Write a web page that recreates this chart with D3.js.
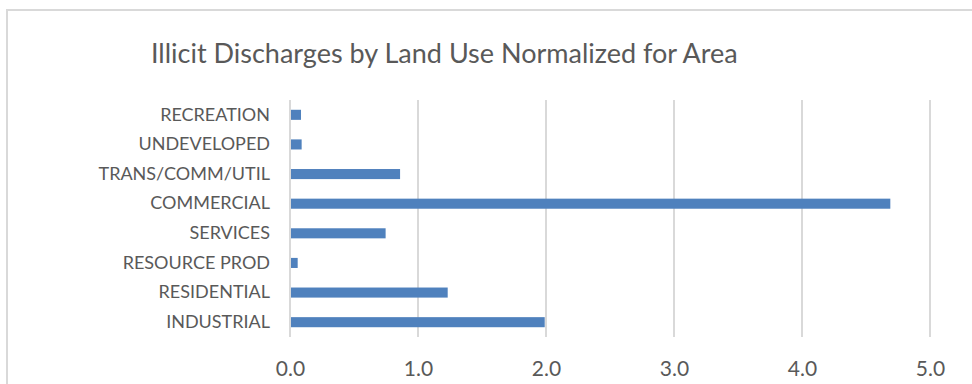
<!DOCTYPE html>
<html><head><meta charset="utf-8">
<script src="https://cdn.jsdelivr.net/npm/d3@7"></script>
<style>body{margin:0;background:#fff}</style></head>
<body><svg id="chart" width="972" height="384"></svg>
<script>
// Land-use categories, listed top to bottom
const categories = ["RECREATION","UNDEVELOPED","TRANS/COMM/UTIL","COMMERCIAL","SERVICES","RESOURCE PROD","RESIDENTIAL","INDUSTRIAL"];
// Illicit discharges per unit area
const values = [0.086, 0.091, 0.86, 4.69, 0.747, 0.06, 1.232, 1.99];
const xTicks = [0, 1, 2, 3, 4, 5];
const title = "Illicit Discharges by Land Use Normalized for Area";

const svg = d3.select("#chart");
const font = "Lato, 'Open Sans', sans-serif";
const textColor = "#595959";

// chart frame
svg.append("path")
  .attr("d", "M7,384 V10 H972")
  .attr("fill", "none").attr("stroke", "#d9d9d9").attr("stroke-width", 2);

svg.append("text")
  .attr("x", 151).attr("y", 63)
  .attr("font-family", font).attr("font-size", 27)
  .attr("fill", textColor)
  .text(title);

const x = d3.scaleLinear().domain([0, 5]).range([290, 930]);
const y = d3.scaleBand().domain(categories).range([100, 337])
  .paddingInner(0.66).paddingOuter(0.33);

// vertical gridlines
svg.append("g").selectAll("line").data(xTicks).join("line")
  .attr("x1", d => x(d)).attr("x2", d => x(d))
  .attr("y1", 100).attr("y2", 337)
  .attr("stroke", "#d9d9d9").attr("stroke-width", 2);

// bars
svg.append("g").selectAll("rect").data(categories).join("rect")
  .attr("x", x(0) + 1)
  .attr("y", d => y(d))
  .attr("width", (d, i) => x(values[i]) - x(0) - 1)
  .attr("height", y.bandwidth())
  .attr("fill", "#4f81bd");

// category axis (labels only)
const yAxis = svg.append("g").attr("transform", "translate(290,0)")
  .call(d3.axisLeft(y).tickSize(0).tickPadding(20));
yAxis.select(".domain").remove();
yAxis.selectAll("text").attr("font-family", font).attr("font-size", 18).attr("fill", textColor);

// value axis (labels only)
const xAxis = svg.append("g").attr("transform", "translate(0,337)")
  .call(d3.axisBottom(x).tickValues(xTicks).tickFormat(d3.format(".1f")).tickSize(0).tickPadding(24));
xAxis.select(".domain").remove();
xAxis.selectAll("text").attr("font-family", font).attr("font-size", 21).attr("fill", textColor);
</script></body></html>
